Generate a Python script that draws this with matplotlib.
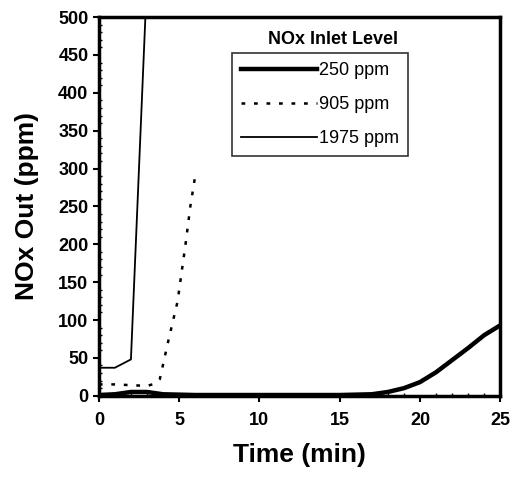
import matplotlib
matplotlib.use("Agg")
import matplotlib.pyplot as plt
from matplotlib.ticker import MultipleLocator

plt.rcParams['font.family'] = ['Liberation Sans', 'DejaVu Sans']

# 250 ppm inlet
t250 = [0, 1, 2, 3, 4, 6, 10, 15, 17, 18, 19, 20, 21, 22, 23, 24, 25]
y250 = [1, 2, 5, 5, 2, 1, 1, 1, 2, 5, 10, 18, 31, 47, 63, 80, 93]
# 905 ppm inlet
t905 = [0, 1, 2, 3, 3.5, 3.8, 4.3, 4.9, 5.4, 5.7, 6]
y905 = [15, 15, 14, 13, 16, 22, 70, 124, 200, 250, 290]
# 1975 ppm inlet
t1975 = [0, 1, 2, 2.9, 25]
y1975 = [37, 37, 48, 500, 500]

fig = plt.figure(figsize=(5.12, 4.88), dpi=100)
ax = fig.add_axes([0.193, 0.189, 0.784, 0.776])

ax.plot(t250, y250, color='black', lw=3.2, label='250 ppm')
ax.plot(t905, y905, color='black', lw=1.8, ls=(0, (1.5, 3.5)), label='905 ppm')
ax.plot(t1975, y1975, color='black', lw=1.3, label='1975 ppm')

ax.set_xlim(0, 25)
ax.set_ylim(0, 500)
ax.xaxis.set_major_locator(MultipleLocator(5))
ax.yaxis.set_major_locator(MultipleLocator(50))
ax.xaxis.set_minor_locator(MultipleLocator(1))
ax.yaxis.set_minor_locator(MultipleLocator(10))
ax.tick_params(which='major', direction='out', length=4, width=1.5, labelsize=13)
ax.tick_params(axis='x', which='major', pad=8)
ax.tick_params(which='minor', direction='in', length=2, width=1)
for lab in ax.get_xticklabels() + ax.get_yticklabels():
    lab.set_fontweight('bold')
for s in ax.spines.values():
    s.set_linewidth(2.5)

ax.set_xlabel('Time (min)', fontsize=19, fontweight='bold', labelpad=10)
ax.set_ylabel('NOx Out (ppm)', fontsize=19, fontweight='bold', labelpad=14)

leg = ax.legend(loc='upper left', bbox_to_anchor=(0.332, 0.905), fontsize=13,
                frameon=True, fancybox=False, edgecolor='black',
                handlelength=4.2, handletextpad=0.1, borderpad=0.5,
                labelspacing=0.95, borderaxespad=0)
leg.get_frame().set_linewidth(1.2)
ax.text(0.584, 0.94, 'NOx Inlet Level', transform=ax.transAxes, ha='center',
        va='center', fontsize=13, fontweight='bold')

fig.savefig('out.png', dpi=100)
